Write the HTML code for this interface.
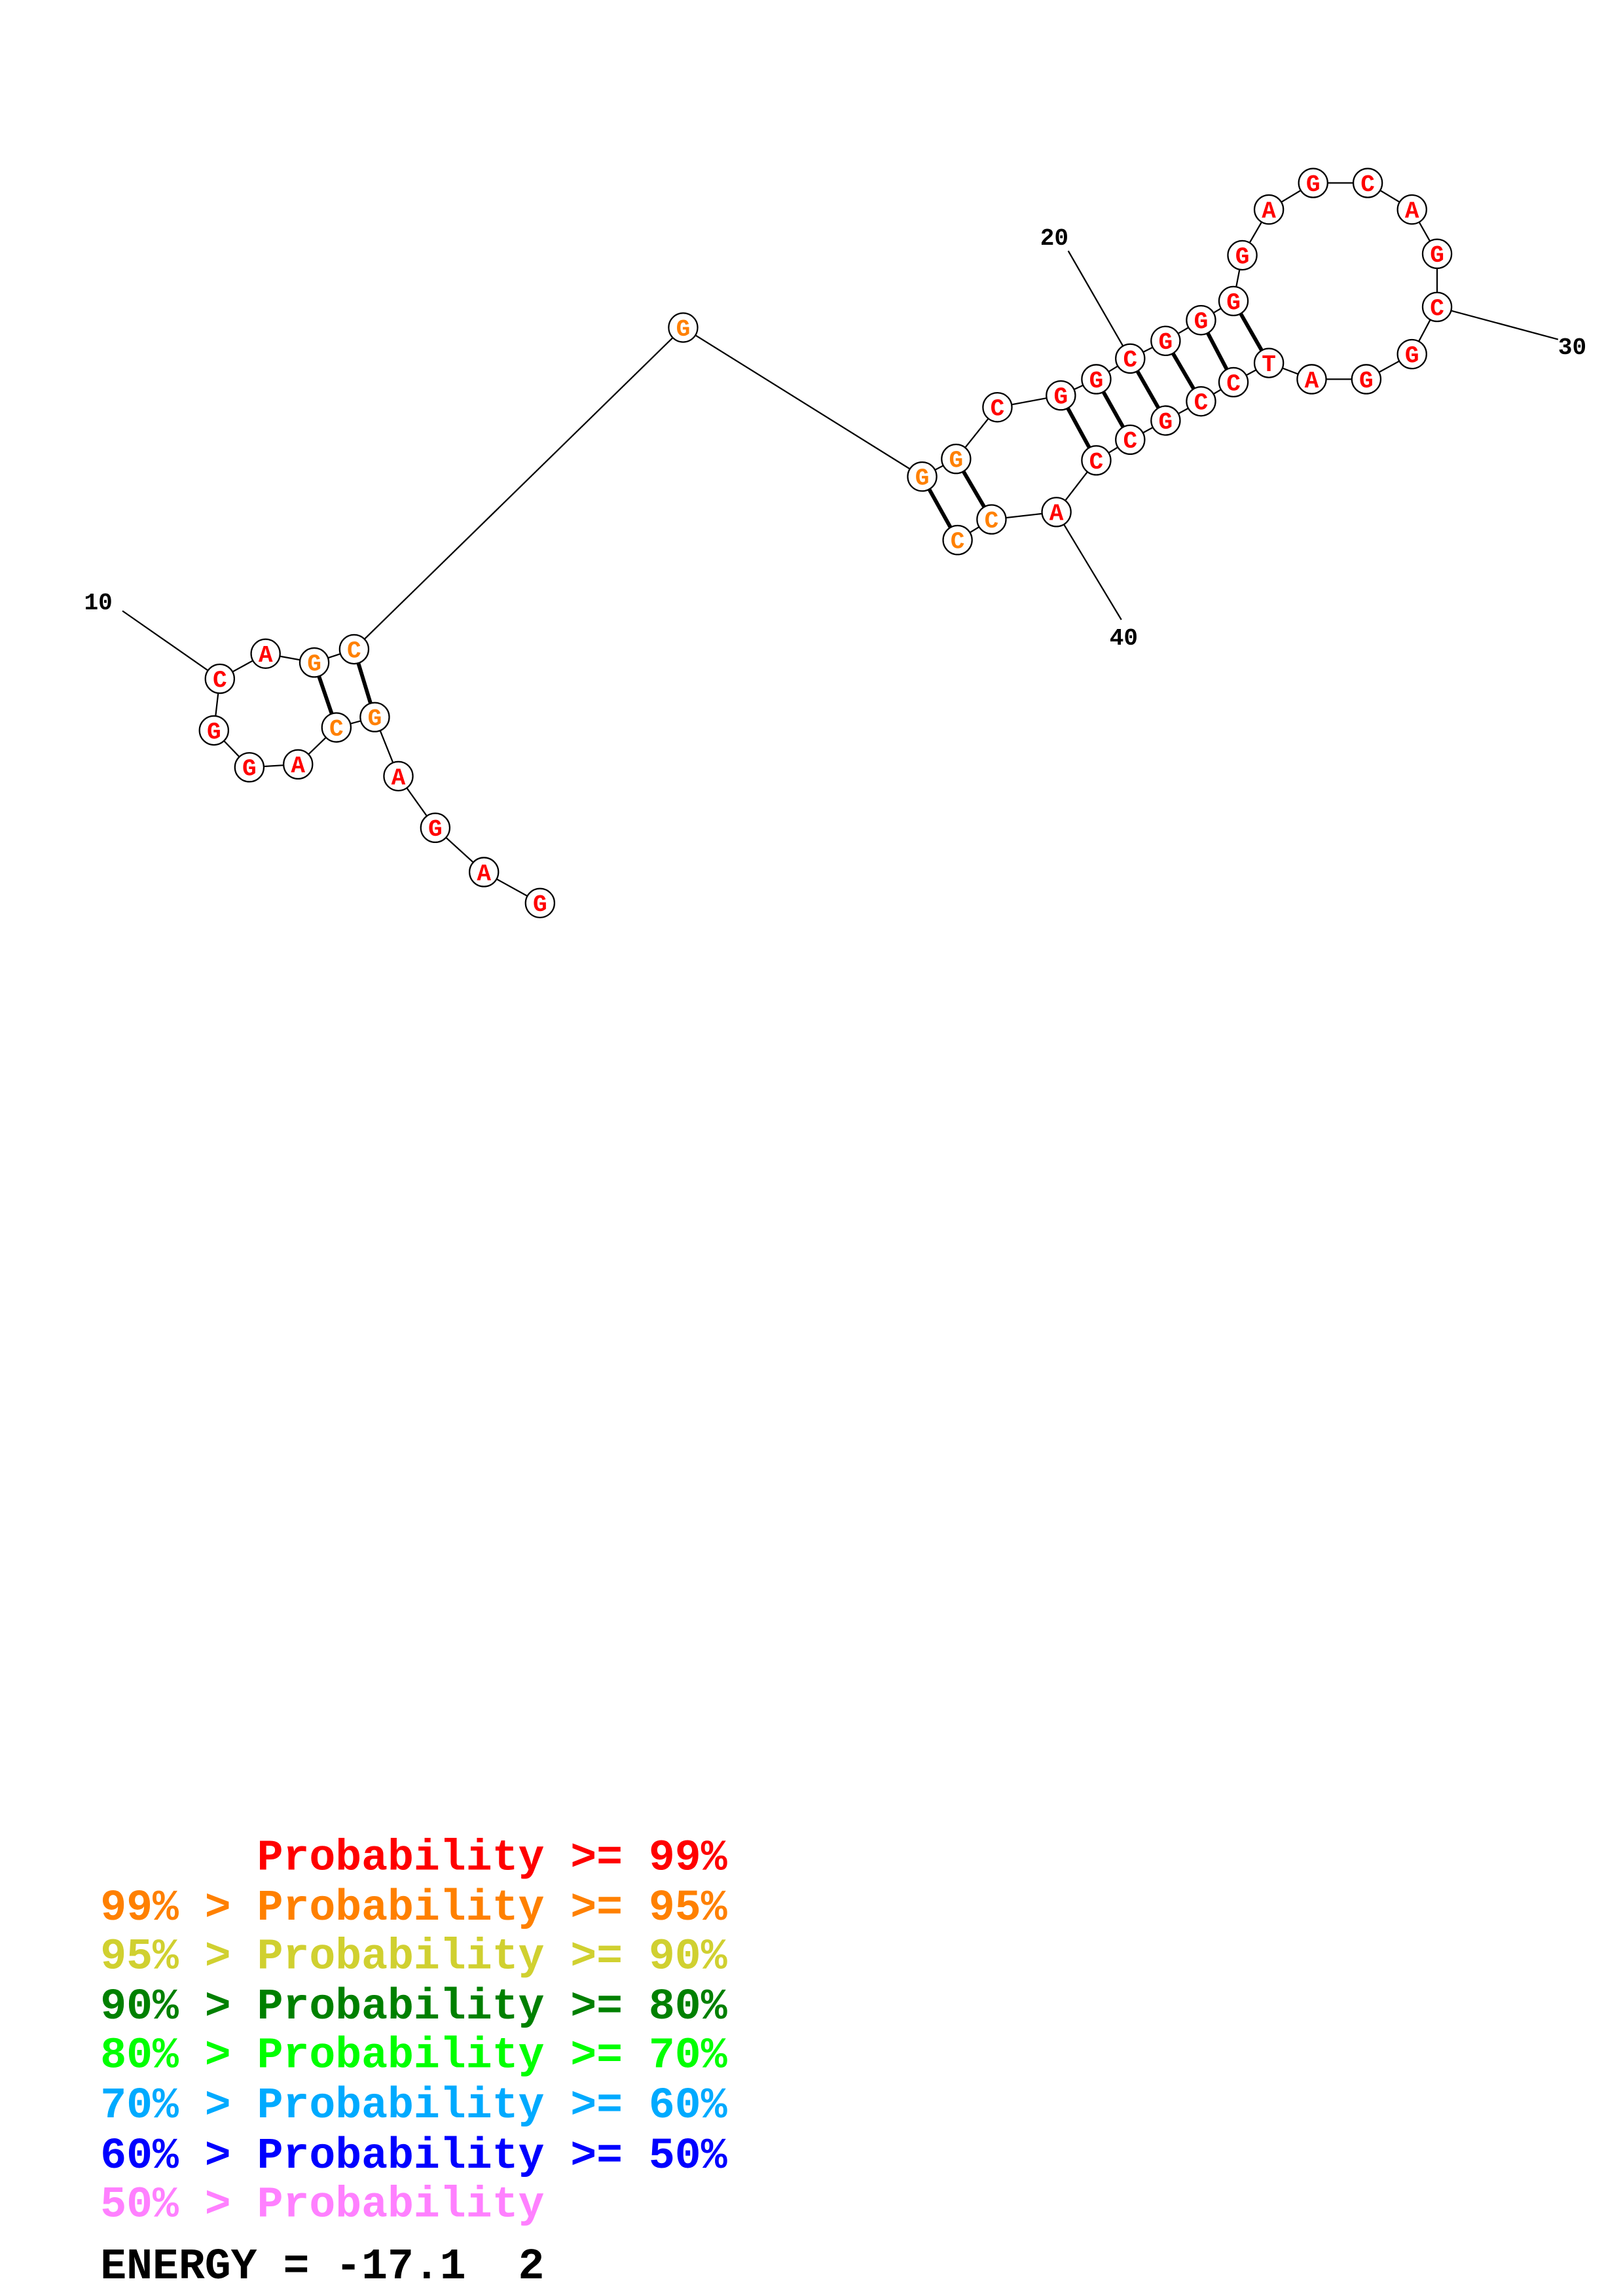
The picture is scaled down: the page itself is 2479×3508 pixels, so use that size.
<!DOCTYPE html>
<html><head><meta charset="utf-8"><style>html,body{margin:0;padding:0;background:#fff}svg{display:block}.pre{white-space:pre}</style></head>
<body>
<svg width="2479" height="3508" viewBox="0 0 1100 1556" preserveAspectRatio="none" xmlns="http://www.w3.org/2000/svg">
<rect width="1100" height="1556" fill="#fff"/>
<g stroke="#000" stroke-width="1" fill="none">
<polyline points="366,612 328,591 295,561 270,526 254,486 228,493 202,518 169,520 145,495 149,460 180,443 213,449 240,440 463,222 625,323 648,311 676,276 719,268 743,257 766,243 790,231 814,217 836,204 842,173 860,142 890,124 927,124 957,142 974,172 974,208 957,240 926,257 889,257 860,246 836,259 814,272 790,285 766,298 743,312 716,347 672,352 649,366"/>
<line x1="83" y1="414" x2="149" y2="460"/>
<line x1="724" y1="170" x2="766" y2="243"/>
<line x1="974" y1="208" x2="1056" y2="230"/>
<line x1="716" y1="347" x2="760" y2="420"/>
</g>
<g stroke="#000" stroke-width="2.6">
<line x1="254" y1="486" x2="240" y2="440"/>
<line x1="228" y1="493" x2="213" y2="449"/>
<line x1="625" y1="323" x2="649" y2="366"/>
<line x1="648" y1="311" x2="672" y2="352"/>
<line x1="719" y1="268" x2="743" y2="312"/>
<line x1="743" y1="257" x2="766" y2="298"/>
<line x1="766" y1="243" x2="790" y2="285"/>
<line x1="790" y1="231" x2="814" y2="272"/>
<line x1="814" y1="217" x2="836" y2="259"/>
<line x1="836" y1="204" x2="860" y2="246"/>
</g>
<g font-family="Liberation Mono, monospace" font-weight="bold" font-size="16" text-anchor="middle">
<g stroke="#000" stroke-width="1" fill="#fff">
<circle cx="366" cy="612" r="9.8"/><circle cx="328" cy="591" r="9.8"/><circle cx="295" cy="561" r="9.8"/><circle cx="270" cy="526" r="9.8"/><circle cx="254" cy="486" r="9.8"/><circle cx="228" cy="493" r="9.8"/><circle cx="202" cy="518" r="9.8"/><circle cx="169" cy="520" r="9.8"/><circle cx="145" cy="495" r="9.8"/><circle cx="149" cy="460" r="9.8"/><circle cx="180" cy="443" r="9.8"/><circle cx="213" cy="449" r="9.8"/><circle cx="240" cy="440" r="9.8"/><circle cx="463" cy="222" r="9.8"/><circle cx="625" cy="323" r="9.8"/><circle cx="648" cy="311" r="9.8"/><circle cx="676" cy="276" r="9.8"/><circle cx="719" cy="268" r="9.8"/><circle cx="743" cy="257" r="9.8"/><circle cx="766" cy="243" r="9.8"/><circle cx="790" cy="231" r="9.8"/><circle cx="814" cy="217" r="9.8"/><circle cx="836" cy="204" r="9.8"/><circle cx="842" cy="173" r="9.8"/><circle cx="860" cy="142" r="9.8"/><circle cx="890" cy="124" r="9.8"/><circle cx="927" cy="124" r="9.8"/><circle cx="957" cy="142" r="9.8"/><circle cx="974" cy="172" r="9.8"/><circle cx="974" cy="208" r="9.8"/><circle cx="957" cy="240" r="9.8"/><circle cx="926" cy="257" r="9.8"/><circle cx="889" cy="257" r="9.8"/><circle cx="860" cy="246" r="9.8"/><circle cx="836" cy="259" r="9.8"/><circle cx="814" cy="272" r="9.8"/><circle cx="790" cy="285" r="9.8"/><circle cx="766" cy="298" r="9.8"/><circle cx="743" cy="312" r="9.8"/><circle cx="716" cy="347" r="9.8"/><circle cx="672" cy="352" r="9.8"/><circle cx="649" cy="366" r="9.8"/>
</g>
<g fill="#ff0000">
<text x="366" y="617.5">G</text><text x="328" y="596.5">A</text><text x="295" y="566.5">G</text><text x="270" y="531.5">A</text><text x="202" y="523.5">A</text><text x="169" y="525.5">G</text><text x="145" y="500.5">G</text><text x="149" y="465.5">C</text><text x="180" y="448.5">A</text><text x="676" y="281.5">C</text><text x="719" y="273.5">G</text><text x="743" y="262.5">G</text><text x="766" y="248.5">C</text><text x="790" y="236.5">G</text><text x="814" y="222.5">G</text><text x="836" y="209.5">G</text><text x="842" y="178.5">G</text><text x="860" y="147.5">A</text><text x="890" y="129.5">G</text><text x="927" y="129.5">C</text><text x="957" y="147.5">A</text><text x="974" y="177.5">G</text><text x="974" y="213.5">C</text><text x="957" y="245.5">G</text><text x="926" y="262.5">G</text><text x="889" y="262.5">A</text><text x="860" y="251.5">T</text><text x="836" y="264.5">C</text><text x="814" y="277.5">C</text><text x="790" y="290.5">G</text><text x="766" y="303.5">C</text><text x="743" y="317.5">C</text><text x="716" y="352.5">A</text>
</g>
<g fill="#ff8000">
<text x="254" y="491.5">G</text><text x="228" y="498.5">C</text><text x="213" y="454.5">G</text><text x="240" y="445.5">C</text><text x="463" y="227.5">G</text><text x="625" y="328.5">G</text><text x="648" y="316.5">G</text><text x="672" y="357.5">C</text><text x="649" y="371.5">C</text>
</g>
</g>
<g font-family="Liberation Mono, monospace" font-weight="bold" font-size="16" fill="#000">
<text x="57" y="413">10</text><text x="705" y="166">20</text><text x="1056" y="240">30</text><text x="752" y="437">40</text>
</g>
<g font-family="Liberation Mono, monospace" font-weight="bold" font-size="29.5" class="pre">
<text x="68" y="1267" fill="#ff0000" class="pre">      Probability &gt;= 99%</text>
<text x="68" y="1301" fill="#ff8000">99% &gt; Probability &gt;= 95%</text>
<text x="68" y="1334" fill="#d0d030">95% &gt; Probability &gt;= 90%</text>
<text x="68" y="1368" fill="#008000">90% &gt; Probability &gt;= 80%</text>
<text x="68" y="1401" fill="#00ff00">80% &gt; Probability &gt;= 70%</text>
<text x="68" y="1435" fill="#00aaff">70% &gt; Probability &gt;= 60%</text>
<text x="68" y="1469" fill="#0000ff">60% &gt; Probability &gt;= 50%</text>
<text x="68" y="1502" fill="#ff80ff">50% &gt; Probability</text>
<text x="68" y="1544" fill="#000" class="pre">ENERGY = -17.1  2</text>
</g>
</svg>
</body></html>
